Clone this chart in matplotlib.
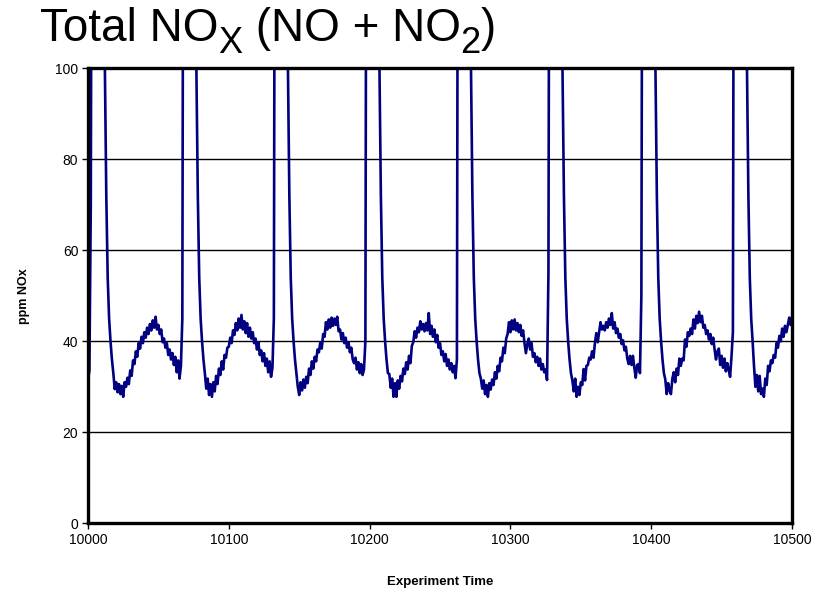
import numpy as np
import matplotlib.pyplot as plt
from matplotlib.transforms import IdentityTransform

plt.rcParams['font.family'] = ['Liberation Sans', 'DejaVu Sans']

start_time = 10000

# ppm NOx, one reading per time unit, split at each injection spike
lead_in = [31.5, 33.5, 70]
cycle_1 = [200, 265, 290, 300, 285, 250, 210, 165, 125, 100, 72, 54, 45, 40, 36, 33,
           29.5, 31, 28.8, 30.6, 28.4, 30.2, 27.8, 31, 30, 32, 30.6, 33.6, 32.4, 35.8, 35, 37.8,
           36.6, 39.6, 38.4, 41, 39.6, 42, 40.8, 43, 41.6, 43.8, 42.4, 44.6, 43, 45.4, 42.6, 43.6,
           41.6, 42.6, 39.8, 40.6, 38.6, 39.6, 37, 38.2, 36, 37.4, 34.8, 36.6, 33.2, 35.8, 31.8, 34.6, 45]
cycle_2 = [205, 270, 295, 305, 290, 255, 212, 168, 126, 100, 72, 54, 45, 40, 36, 33,
           29.6, 31.8, 28.2, 30.6, 27.8, 31, 29, 32.4, 30.6, 34, 32.6, 35.6, 33.8, 37, 36.4, 38.6,
           38.8, 40.8, 39.6, 42.4, 41.4, 44, 42.4, 45, 43, 45.8, 42.6, 44.4, 41.8, 44, 41, 43,
           40.6, 42, 39.6, 40.6, 38.2, 39.8, 37, 38, 35.6, 37.4, 34.6, 36.2, 33.2, 35.6, 32.2, 34.2, 45]
cycle_3 = [198, 262, 288, 298, 284, 248, 208, 164, 124, 100, 72, 54, 45, 40, 36, 33,
           30, 28.2, 31, 29.2, 31.6, 29.8, 32.2, 30.8, 34, 32.6, 35.6, 34, 36.6, 35.6, 38.2, 37.6,
           39.8, 38.4, 41.6, 41, 44.2, 42.6, 44.8, 43, 45.2, 43.4, 45, 43.6, 45.4, 42.2, 42.6, 40.4,
           41.8, 39.6, 40.8, 38.6, 39.8, 37.6, 38.6, 36, 35.2, 36.4, 33.8, 35.4, 33, 35, 32.6, 33.8, 40]
cycle_4 = [202, 268, 292, 302, 288, 252, 211, 166, 125, 100, 72, 54, 45, 40, 36, 33,
           32.8, 29.8, 31.8, 27.8, 30.8, 27.8, 31.4, 29.6, 32.4, 31.2, 34, 32.8, 35.4, 33.8, 36.8, 35.2,
           39, 39.8, 42.2, 40.8, 43, 42, 44.4, 42.6, 43.8, 42.2, 44, 42.4, 46.2, 41.6, 43.4, 41,
           42.6, 39.8, 41.4, 38.6, 39.6, 37, 37.8, 35.6, 37.2, 34.6, 36, 33.8, 35.2, 33.2, 34.6, 31.9, 36]
cycle_5 = [200, 266, 291, 301, 286, 251, 210, 165, 125, 100, 72, 54, 45, 40, 36, 33,
           31.8, 29.6, 31.4, 28.4, 30.4, 27.8, 30.8, 29.4, 31.6, 30.4, 33.2, 31.8, 34.6, 33.4, 36.4, 35.6,
           38.6, 37.4, 40.6, 41.6, 44.2, 42, 44.6, 42.6, 44.8, 42.4, 44, 42, 43.6, 41.2, 42.4, 39.6,
           37.4, 39.4, 40.6, 38.2, 39.6, 36.6, 37.4, 35.4, 36.6, 34.6, 36.2, 33.8, 35, 33.2, 33.8, 31.5, 55]
cycle_6 = [204, 269, 294, 304, 289, 254, 212, 167, 126, 100, 72, 54, 45, 40, 36, 33,
           31.4, 29, 31.8, 27.8, 30, 28.2, 31, 30.4, 33.9, 31.4, 34.6, 34.8, 36.4, 36, 37.8, 36.4,
           39.6, 41.8, 39.8, 42, 44.2, 42.6, 43.4, 42.4, 44.2, 43, 45, 43.6, 46.2, 42.8, 44.2, 41.8,
           42.8, 40.8, 41.6, 39.4, 40.2, 38, 38.8, 36.2, 35, 36.8, 34.8, 36.8, 34.2, 32, 34.8, 35, 33, 50]
cycle_7 = [199, 264, 289, 299, 285, 249, 209, 165, 125, 100, 72, 54, 45, 40, 36, 33,
           31.6, 28.4, 30.8, 29.2, 28.4, 31.8, 33.2, 31, 34, 32.6, 36.2, 34.6, 36.2, 35.8, 40.4, 38.8,
           42, 41.2, 42.8, 41.6, 44.8, 42.8, 45.6, 44, 46.5, 44.2, 45.6, 43, 43.6, 41.6, 42.4, 40.4,
           41.6, 39.4, 40.8, 38.2, 36, 37.8, 38.4, 34.8, 36.8, 34.2, 36.2, 33.4, 35.2, 33.8, 32.2, 36.6, 42]
cycle_8 = [203, 267, 293, 303, 287, 253, 211, 166, 125, 100, 72, 54, 45, 40, 34.5, 30,
           32.6, 29, 32.4, 28.4, 29.6, 27.8, 31.8, 30.4, 34.6, 33.4, 35.8, 35.2, 37, 36.4, 39.6, 38.6,
           41.2, 40, 42.8, 41, 43.4, 42, 43.6, 45.2, 43.6, 45.4]

ppm = np.concatenate([lead_in, cycle_1, cycle_2, cycle_3, cycle_4,
                      cycle_5, cycle_6, cycle_7, cycle_8])
time = start_time + np.arange(len(ppm))

fig = plt.figure(figsize=(8.2, 5.94), dpi=100)
ax = fig.add_axes([0.1073, 0.119, 0.8586, 0.766])

ax.plot(time, ppm, color='#000080', linewidth=1.9, solid_joinstyle='round')

ax.set_xlim(10000, 10500)
ax.set_ylim(0, 100)
ax.set_xticks(np.arange(10000, 10501, 100))
ax.set_yticks(np.arange(0, 101, 20))
ax.yaxis.grid(True, color='black', linewidth=1.0)
ax.set_axisbelow(True)

for side in ['left', 'bottom', 'top', 'right']:
    ax.spines[side].set_linewidth(2.4)
    ax.spines[side].set_color('black')

ax.tick_params(axis='both', direction='out', length=4, width=1, labelsize=10, pad=3)

ax.set_xlabel('Experiment Time', fontsize=9.5, fontweight='bold', labelpad=21)
ax.set_ylabel('ppm NOx', fontsize=9, fontweight='bold', labelpad=18)

# title with lowered subscripts, pieces placed one after another in pixels
renderer = fig.canvas.get_renderer()
x_px, base_px = 40, 594 - 41
for text, size, drop in [('Total NO', 33, 0), ('X', 26, 12), (' (NO + NO', 33, 0),
                         ('2', 26, 12), (')', 33, 0)]:
    t = fig.text(x_px, base_px - drop, text, fontsize=size, ha='left', va='baseline',
                 transform=IdentityTransform())
    x_px = t.get_window_extent(renderer).x1

fig.savefig('out.png', dpi=100)
